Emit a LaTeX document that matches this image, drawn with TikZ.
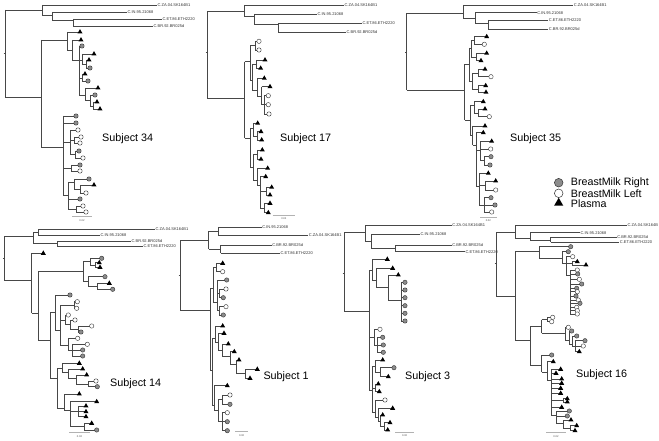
\documentclass[tikz,border=0pt]{standalone}
\usepackage{fontspec}
\setmainfont{Liberation Sans}
\usetikzlibrary{shapes.geometric}
\newcount\lc
\tikzset{
 br/.style={line width=0.65pt, draw=black!72},
 bmr/.style={circle, draw=black!80, line width=0.4pt, fill=black!45, minimum size=4.4pt, inner sep=0pt},
 bml/.style={circle, draw=black!80, line width=0.4pt, fill=white, minimum size=4.4pt, inner sep=0pt},
 pl/.style={regular polygon, regular polygon sides=3, fill=black, minimum size=5.8pt, inner sep=0pt},
 olab/.style={anchor=west, inner sep=0.4pt, font=\fontsize{4}{4}\selectfont, text=black!80},
 sbar/.style={line width=0.9pt, draw=gray!60},
 sblab/.style={font=\fontsize{2.6}{3}\selectfont, text=black!70, inner sep=0pt},
 subj/.style={anchor=west, inner sep=0pt, font=\fontsize{10.8}{12}\selectfont},
 leg/.style={anchor=west, inner sep=0pt, font=\fontsize{10.7}{12}\selectfont},
}
% leaf: parent x, leaf x, y, marker style
\newcommand\TLeaf[4]{\global\advance\lc by 1
 \draw[br] (#1,#3) -- (#2,#3); \node[#4] (m\the\lc) at (#2,#3) {};}
% internal node: parent x, node x, attach y, top y, bottom y
\newcommand\TNode[5]{\draw[br] (#1,#3) -- (#2,#3) (#2,#4) -- (#2,#5);}
% outgroup leaf with label
\newcommand\TOut[4]{\global\advance\lc by 1
 \draw[br] (#1,#3) -- (#2,#3); \node[olab] (t\the\lc) at (#2,#3) {#4};}
% root: x, top y, bottom y, tick y
\newcommand\TRoot[4]{\draw[br] (#1,#2) -- (#1,#3) (#1-1.5,#4) -- (#1,#4);}
\newcommand\TScale[3]{\global\advance\lc by 1
 \draw[sbar] (#1,#3) -- (#2,#3); \node[sblab] (s\the\lc) at ({(#1+#2)/2},#3+3.6) {0.02};}
\begin{document}
\begin{tikzpicture}[x=1pt,y=-1pt]
\useasboundingbox (0,0) rectangle (659,441);
\fill[white] (0,0) rectangle (659,441);

%%%%%%%%%%%%%%%% Subject 34
\TRoot{5}{10}{97}{53}
\draw[br] (5,10) -- (42,10) (42,5) -- (42,15);
\TOut{42}{157}{5}{C.ZA.04.SK164B1}
\TNode{42}{52}{15}{12}{20}
\TOut{52}{127}{12}{C.IN.95.21068}
\TNode{52}{73}{20}{19}{26}
\TOut{73}{162}{19}{C.ET.86.ETH2220}
\TOut{73}{153}{26}{C.BR.92.BR025d}
\draw[br] (5,97) -- (41,97) (41,40) -- (41,147);
\TNode{41}{67}{40}{32}{50}
\TLeaf{67}{80}{32}{pl}
\TNode{67}{72}{50}{40}{60}
\TLeaf{72}{81}{40}{pl}
\TNode{72}{79}{60}{46}{95}
\TLeaf{79}{82}{46}{bmr}
\TNode{79}{82}{60}{54}{64}
\TLeaf{82}{94}{54}{pl}
\TNode{82}{86}{64}{60}{68}
\TLeaf{86}{89}{60}{pl}
\TLeaf{86}{90}{68}{bmr}
\TNode{79}{82}{78}{74}{81}
\TLeaf{82}{85}{74}{pl}
\TLeaf{82}{88}{81}{bmr}
\TNode{79}{85}{95}{88}{100}
\TLeaf{85}{98}{88}{pl}
\TNode{85}{90}{100}{95}{106}
\TLeaf{90}{95}{95}{bmr}
\TNode{90}{93}{106}{102}{109}
\TLeaf{93}{97}{102}{pl}
\TLeaf{93}{100}{109}{pl}
\TNode{41}{63}{147}{116}{195}
\TLeaf{63}{76}{116}{bmr}
\TLeaf{63}{76}{123}{bmr}
\TNode{63}{70}{142}{130}{154.5}
\TLeaf{70}{78}{130}{bml}
\TNode{70}{74}{140}{137}{143}
\TLeaf{74}{81}{137}{bml}
\TLeaf{74}{80}{143}{bml}
\TNode{70}{75}{154.5}{151}{158}
\TLeaf{75}{79}{151}{bmr}
\TLeaf{75}{83}{158}{bml}
\TNode{63}{71}{168}{165}{171}
\TLeaf{71}{80}{165}{bmr}
\TLeaf{71}{80}{171}{bml}
\TNode{63}{68}{195}{182}{209}
\TNode{68}{74}{182}{179}{189}
\TLeaf{74}{89}{179}{bmr}
\TNode{74}{80}{189}{185}{193}
\TLeaf{80}{94}{185}{pl}
\TLeaf{80}{86}{193}{bml}
\TLeaf{68}{80}{199}{bmr}
\TNode{68}{76}{209}{206}{212}
\TLeaf{76}{83}{206}{bml}
\TLeaf{76}{86}{212}{bml}
\TScale{72}{92}{216.7}
\node[subj] (s34) at (102,139) {Subject 34};

%%%%%%%%%%%%%%%% Subject 17
\TRoot{207}{11.7}{98.3}{52}
\draw[br] (207,11.7) -- (244,11.7) (244,5) -- (244,16);
\TOut{244}{344}{5}{C.ZA.04.SK164B1}
\TNode{244}{254}{16}{14}{24}
\TOut{254}{317}{14}{C.IN.95.21068}
\TNode{254}{278}{24}{23}{32}
\TOut{278}{362}{23}{C.ET.86.ETH2220}
\TOut{278}{346}{32}{C.BR.92.BR025d}
\draw[br] (207,98.3) -- (244.7,98.3) (244.7,61.7) -- (244.7,138.3);
\TNode{244.7}{250}{61.7}{45.7}{80}
\TNode{250}{255}{45.7}{41.3}{50}
\TLeaf{255}{259}{41.3}{bml}
\TLeaf{255}{259}{50}{bml}
\TNode{250}{252}{80}{64}{90}
\TNode{252}{256}{64}{60}{68.3}
\TLeaf{256}{265}{60}{pl}
\TLeaf{256}{260.7}{68.3}{pl}
\TNode{252}{257}{90}{78.3}{96}
\TLeaf{257}{264.3}{78.3}{pl}
\TNode{257}{261.7}{96}{86.7}{104.7}
\TLeaf{261.7}{270}{86.7}{pl}
\TNode{261.7}{264}{104.7}{95.7}{114}
\TLeaf{264}{268.3}{95.7}{bml}
\TLeaf{264}{268.3}{104.7}{bml}
\TLeaf{264}{269}{114}{bml}
\TNode{244.7}{250}{138.3}{128}{167}
\TNode{250}{253}{128}{123.3}{136}
\TLeaf{253}{257.7}{123.3}{pl}
\TNode{253}{257}{136}{131.7}{140}
\TLeaf{257}{261}{131.7}{pl}
\TLeaf{257}{261.7}{140}{pl}
\TNode{250}{253}{167}{154.7}{180}
\TNode{253}{257}{154.7}{150}{159.3}
\TLeaf{257}{262.3}{150}{pl}
\TLeaf{257}{261}{159.3}{pl}
\TNode{253}{257}{180}{168.3}{185}
\TLeaf{257}{267.7}{168.3}{pl}
\TNode{257}{260}{185}{176.7}{208}
\TLeaf{260}{265.7}{176.7}{pl}
\TNode{260}{266}{191}{187.3}{195}
\TLeaf{266}{271.7}{187.3}{pl}
\TLeaf{266}{270}{195}{pl}
\TNode{260}{264}{208}{203.3}{212.7}
\TLeaf{264}{270}{203.3}{pl}
\TLeaf{264}{268.3}{212.7}{pl}
\TScale{272.7}{295}{215}
\node[subj] (s17) at (280,138.3) {Subject 17};

%%%%%%%%%%%%%%%% Subject 35
\TRoot{406.7}{13.3}{90}{52}
\draw[br] (406.7,13.3) -- (463.3,13.3) (463.3,5) -- (463.3,18);
\TOut{463.3}{573.3}{5}{C.ZA.04.SK164B1}
\TNode{463.3}{475}{18}{12.7}{23}
\TOut{475}{536.7}{12.7}{C.IN.95.21068}
\TNode{475}{488.3}{23}{20}{29}
\TOut{488.3}{548.3}{20}{C.ET.86.ETH2220}
\TOut{488.3}{548.3}{29}{C.BR.92.BR025d}
\draw[br] (406.7,90) -- (464.7,90) (464.7,64.5) -- (464.7,120);
\TNode{464.7}{469.3}{64.5}{48}{81}
\TNode{469.3}{471}{48}{40.5}{57}
\TNode{471}{474}{40.5}{36.7}{44.3}
\TLeaf{474}{486.7}{36.7}{pl}
\TLeaf{474}{484.3}{44.3}{bml}
\TNode{471}{476}{57}{53.3}{60.7}
\TLeaf{476}{486.7}{53.3}{pl}
\TLeaf{476}{481}{60.7}{pl}
\TNode{469.3}{472}{81}{73}{89}
\TNode{472}{478}{73}{69.3}{76.7}
\TLeaf{478}{485}{69.3}{pl}
\TLeaf{478}{491}{76.7}{bml}
\TNode{472}{478}{89}{85.7}{92.3}
\TLeaf{478}{485.7}{85.7}{pl}
\TLeaf{478}{486}{92.3}{pl}
\TNode{464.7}{470}{120}{105}{135}
\TNode{470}{474}{105}{101.7}{113}
\TLeaf{474}{483.3}{101.7}{pl}
\TNode{474}{478}{113}{109}{116.7}
\TLeaf{478}{485}{109}{pl}
\TLeaf{478}{489.3}{116.7}{bml}
\TNode{470}{472.7}{135}{126}{145}
\TLeaf{472.7}{485}{126}{pl}
\TNode{472.7}{476}{145}{132.7}{186}
\TLeaf{476}{483.3}{132.7}{pl}
\TNode{476}{480}{150}{141.3}{160.8}
\TLeaf{480}{491.7}{141.3}{pl}
\TLeaf{480}{490.7}{149}{bml}
\TNode{480}{484}{160.8}{156.7}{165}
\TLeaf{484}{491}{156.7}{bmr}
\TLeaf{484}{490}{165}{bmr}
\TNode{476}{479}{186}{173.3}{205}
\TLeaf{479}{488.3}{173.3}{pl}
\TNode{479}{485}{185.5}{181}{190}
\TLeaf{485}{495.7}{181}{pl}
\TLeaf{485}{495.7}{190}{bml}
\TNode{479}{484}{205}{197.7}{212}
\TLeaf{484}{491}{197.7}{bmr}
\TLeaf{484}{495}{205}{bmr}
\TLeaf{484}{491.7}{212}{bml}
\TScale{480}{496.7}{217}
\node[subj] (s35) at (510,138.3) {Subject 35};

% legend
\node[bmr, minimum size=8.6pt, line width=0.5pt] (lg1) at (558.7,182.7) {};
\node[leg] (lt1) at (570.7,182.7) {BreastMilk Right};
\node[bml, minimum size=8.6pt, line width=0.5pt] (lg2) at (558.7,193.3) {};
\node[leg] (lt2) at (570.7,193.3) {BreastMilk Left};
\node[pl, minimum size=10.5pt] (lg3) at (558.7,203) {};
\node[leg] (lt3) at (570.7,203.3) {Plasma};

%%%%%%%%%%%%%%%% Subject 14
\TRoot{4.3}{236}{280}{258}
\draw[br] (4.3,236) -- (33,236) (33,232) -- (33,243.5);
\TNode{33}{38}{232}{229}{235}
\TOut{38}{155}{229}{C.ZA.04.SK164B1}
\TOut{38}{100}{235}{C.IN.95.21068}
\TNode{33}{57}{243.5}{241}{246}
\TOut{57}{131}{241}{C.BR.92.BR025d}
\TOut{57}{143}{246}{C.ET.86.ETH2220}
\draw[br] (4.3,280) -- (31.7,280) (31.7,253.3) -- (31.7,313);
\TLeaf{31.7}{43.3}{253.3}{pl}
\TNode{31.7}{38.3}{313}{271.7}{340}
\TNode{38.3}{83.3}{271.7}{261.5}{281.5}
\TNode{83.3}{90}{261.5}{258.3}{265}
\TLeaf{90}{101.7}{258.3}{bmr}
\TNode{90}{95}{265}{262.7}{267.3}
\TLeaf{95}{99.3}{262.7}{pl}
\TLeaf{95}{100}{267.3}{pl}
\TNode{83.3}{88}{281.5}{276.7}{286.3}
\TLeaf{88}{105}{276.7}{bmr}
\TNode{88}{97}{286.3}{283.3}{289.3}
\TLeaf{97}{109.3}{283.3}{pl}
\TLeaf{97}{112.7}{289.3}{bmr}
\TNode{38.3}{50}{340}{312}{378}
\TNode{50}{55}{312}{295}{330}
\TLeaf{55}{70}{295}{bmr}
\TNode{55}{60}{330}{305}{345}
\TNode{60}{74}{305}{301.7}{308.3}
\TLeaf{74}{77.3}{301.7}{bml}
\TLeaf{74}{76.7}{308.3}{bml}
\TNode{60}{65}{320}{315}{324.5}
\TLeaf{65}{68.3}{315}{bml}
\TNode{65}{70}{324.5}{320}{329}
\TLeaf{70}{75}{320}{bml}
\TNode{70}{78}{329}{326}{332}
\TLeaf{78}{91.7}{326}{bml}
\TLeaf{78}{81}{332}{bmr}
\TNode{60}{68}{345}{338.3}{350}
\TLeaf{68}{77.7}{338.3}{bml}
\TNode{68}{72}{350}{344.3}{356}
\TLeaf{72}{87.3}{344.3}{bml}
\TLeaf{72}{82.7}{350}{bmr}
\TLeaf{72}{82.7}{356}{bmr}
\TNode{50}{57}{378}{368}{408}
\TNode{57}{62}{368}{363.3}{372}
\TLeaf{62}{79.3}{363.3}{pl}
\TNode{62}{68}{372}{369}{378}
\TLeaf{68}{82.7}{369}{pl}
\TNode{68}{76}{378}{375}{384}
\TLeaf{76}{86.7}{375}{pl}
\TNode{76}{88}{384}{381}{386.7}
\TLeaf{88}{96}{381}{bml}
\TLeaf{88}{97.3}{386.7}{bmr}
\TNode{57}{64}{408}{394}{410}
\TLeaf{64}{79.3}{394}{pl}
\TNode{64}{70}{410}{401.7}{426}
\TLeaf{70}{96.7}{401.7}{pl}
\TNode{70}{78}{411.7}{406}{416.7}
\TLeaf{78}{86}{406}{pl}
\TLeaf{78}{86}{411.7}{pl}
\TLeaf{78}{86}{416.7}{pl}
\TNode{70}{84}{426}{423.3}{430}
\TLeaf{84}{91.7}{423.3}{pl}
\TLeaf{84}{96.7}{430}{bmr}
\TScale{69}{90}{432.7}
\node[subj] (s14) at (110,384) {Subject 14};

%%%%%%%%%%%%%%%% Subject 1
\TRoot{180}{240}{310}{275}
\draw[br] (180,240) -- (208.7,240) (208.7,231) -- (208.7,249);
\TNode{208.7}{218.3}{231}{227.3}{235}
\TOut{218.3}{261.7}{227.3}{C.IN.95.21068}
\begin{scope}
\clip (200,225) rectangle (342,245);
\TOut{218.3}{308.3}{235}{C.ZA.04.SK164B1}
\end{scope}
\TNode{208.7}{220.7}{249}{245}{253}
\TOut{220.7}{271.7}{245}{C.BR.92.BR025d}
\TOut{220.7}{280}{253}{C.ET.86.ETH2220}
\draw[br] (180,310) -- (210,310) (210,288) -- (210,370);
\TNode{210}{213}{288}{267.5}{302}
\TNode{213}{216}{267.5}{263.3}{271.7}
\TLeaf{216}{222.7}{263.3}{pl}
\TLeaf{216}{222.7}{271.7}{bml}
\TNode{213}{217}{302}{280}{310.8}
\TLeaf{217}{226.7}{280}{bmr}
\TNode{217}{219}{293}{289}{297.7}
\TLeaf{219}{226}{289}{bml}
\TLeaf{219}{223.3}{297.7}{bmr}
\TNode{217}{219}{310.8}{306.7}{315}
\TLeaf{219}{226}{306.7}{bml}
\TLeaf{219}{223.3}{315}{bmr}
\TNode{210}{212}{370}{338}{405}
\TNode{212}{215}{338}{326}{342}
\TLeaf{215}{222.7}{326}{pl}
\TNode{215}{218}{342}{333.3}{350}
\TLeaf{218}{224}{333.3}{pl}
\TNode{218}{222}{350}{344}{356}
\TLeaf{222}{228.3}{344}{pl}
\TNode{222}{230}{356}{351.7}{364}
\TLeaf{230}{234.3}{351.7}{pl}
\TNode{230}{236}{364}{360}{373.8}
\TLeaf{236}{239}{360}{pl}
\TNode{236}{245}{373.8}{369.3}{378.3}
\TLeaf{245}{257.3}{369.3}{pl}
\TLeaf{245}{250}{378.3}{pl}
\TNode{212}{214}{405}{385.7}{410}
\TLeaf{214}{227.3}{385.7}{pl}
\TNode{214}{218}{410}{399.7}{421.7}
\TNode{218}{222}{399.7}{395}{404.3}
\TLeaf{222}{230}{395}{bml}
\TLeaf{222}{230}{404.3}{bmr}
\TNode{218}{222}{421.7}{412.7}{430.7}
\TLeaf{222}{227.3}{412.7}{bml}
\TLeaf{222}{227.3}{421.7}{bmr}
\TLeaf{222}{227.3}{430.7}{bmr}
\TScale{235}{248.3}{431.7}
\node[subj] (s1) at (263.3,376.7) {Subject 1};

%%%%%%%%%%%%%%%% Subject 3
\TRoot{344}{232}{311.7}{273}
\draw[br] (344,232) -- (365,232) (365,225) -- (365,241);
\TOut{365}{451.7}{225}{C.ZA.04.SK164B1}
\TNode{365}{371}{241}{234}{248}
\TOut{371}{420}{234}{C.IN.95.21068}
\TNode{371}{395}{248}{245}{251.7}
\TOut{395}{451.7}{245}{C.BR.92.BR025d}
\TOut{395}{465}{251.7}{C.ET.86.ETH2220}
\draw[br] (344,311.7) -- (369,311.7) (369,270) -- (369,390);
\TNode{369}{372}{270}{259.3}{280}
\TLeaf{372}{387.3}{259.3}{pl}
\TNode{372}{376}{280}{268.3}{287}
\TLeaf{376}{392.7}{268.3}{pl}
\TNode{376}{388}{287}{275}{300}
\TLeaf{388}{398.3}{275}{pl}
\TNode{388}{401}{300}{282.3}{321}
\TLeaf{401}{405}{282.3}{bmr}
\TLeaf{401}{405}{290}{bmr}
\TLeaf{401}{405}{297.7}{bmr}
\TLeaf{401}{405}{305.7}{bmr}
\TLeaf{401}{405}{313.3}{bmr}
\TLeaf{401}{405}{321}{bmr}
\TNode{369}{374}{337}{329.3}{345}
\TLeaf{374}{380}{329.3}{bml}
\TNode{374}{377}{345}{337.3}{352.3}
\TLeaf{377}{382.7}{337.3}{bmr}
\TLeaf{377}{383.3}{345}{bmr}
\TLeaf{377}{383.3}{352.3}{bmr}
\TNode{369}{372}{390}{366}{412}
\TNode{372}{375}{366}{360}{372}
\TLeaf{375}{382.7}{360}{pl}
\TNode{375}{380}{372}{367.7}{376.7}
\TLeaf{380}{394}{367.7}{bmr}
\TLeaf{380}{388.3}{376.7}{pl}
\TNode{372}{375}{388}{384}{391.7}
\TLeaf{375}{378.3}{384}{pl}
\TLeaf{375}{379.3}{391.7}{pl}
\TNode{372}{375}{412}{400}{417}
\TLeaf{375}{385}{400}{bml}
\TNode{375}{378}{417}{408.3}{421}
\TLeaf{378}{392.7}{408.3}{pl}
\TNode{378}{380}{421}{415}{426.3}
\TLeaf{380}{382.7}{415}{pl}
\TNode{380}{384}{426.3}{422.7}{430}
\TLeaf{384}{390}{422.7}{pl}
\TLeaf{384}{387.7}{430}{pl}
\TScale{395}{414.3}{432.3}
\node[subj] (s3) at (405,376.7) {Subject 3};

%%%%%%%%%%%%%%%% Subject 16
\TRoot{496}{232.7}{296.7}{263.3}
\draw[br] (496,232.7) -- (515,232.7) (515,225) -- (515,238);
\TOut{515}{627}{225}{C.ZA.04.SK164B}
\TNode{515}{530}{238}{232.7}{240}
\TOut{530}{580}{232.7}{C.IN.95.21068}
\TNode{530}{550.7}{240}{237.3}{242}
\TOut{550.7}{616.7}{237.3}{C.BR.92.BR025d}
\TOut{550.7}{619.3}{242}{C.ET.86.ETH2220}
\draw[br] (496,296.7) -- (515,296.7) (515,251.7) -- (515,340);
\TNode{515}{539.3}{251.7}{246.7}{258}
\TLeaf{539.3}{570.7}{246.7}{bmr}
\TNode{539.3}{562}{258}{251.7}{263}
\TLeaf{562}{568.3}{251.7}{bmr}
\TNode{562}{566}{263}{256.7}{275}
\TLeaf{566}{572.7}{256.7}{bml}
\TNode{566}{572}{263.3}{261.7}{265}
\TLeaf{572}{577.3}{261.7}{pl}
\TLeaf{572}{586}{265}{pl}
\TNode{566}{570}{275}{270}{314}
\TLeaf{570}{577.3}{270}{bml}
\TLeaf{570}{577.7}{274}{bmr}
\TLeaf{570}{579.3}{279.3}{bml}
\TLeaf{570}{581.7}{284}{bmr}
\TLeaf{570}{576.7}{288.3}{bmr}
\TLeaf{570}{577.3}{291.7}{bml}
\TLeaf{570}{576}{296}{bmr}
\TLeaf{570}{578.3}{300}{bml}
\TLeaf{570}{580}{303.3}{bmr}
\TLeaf{570}{576.7}{307.3}{bml}
\TLeaf{570}{577.3}{310.7}{bml}
\TLeaf{570}{577.3}{314}{bml}
\TNode{515}{530}{340}{326}{365}
\TNode{530}{541.7}{326}{319.5}{333}
\TNode{541.7}{547}{319.5}{317.3}{321.7}
\TLeaf{547}{552.7}{317.3}{bml}
\TLeaf{547}{551.7}{321.7}{bml}
\TNode{541.7}{565}{333}{327.3}{340}
\TLeaf{565}{568.3}{327.3}{bml}
\TNode{565}{569}{340}{331}{344}
\TLeaf{569}{571.7}{331}{bmr}
\TNode{569}{572}{344}{336}{346}
\TLeaf{572}{576.7}{336}{bmr}
\TNode{572}{575}{346}{340.7}{351.7}
\TLeaf{575}{585}{340.7}{bmr}
\TLeaf{575}{583.3}{346}{bml}
\TLeaf{575}{579.3}{351.7}{pl}
\TNode{530}{541.7}{365}{355}{372}
\TLeaf{541.7}{551.7}{355}{bmr}
\TNode{541.7}{547}{372}{361.7}{380}
\TLeaf{547}{553.3}{361.7}{pl}
\TNode{547}{551}{380}{369.3}{415}
\TLeaf{551}{560.7}{369.3}{pl}
\TLeaf{551}{556}{373.3}{pl}
\TLeaf{551}{561.7}{379}{pl}
\TLeaf{551}{561.7}{383.3}{pl}
\TLeaf{551}{560.7}{388.3}{pl}
\TLeaf{551}{560.7}{393.3}{pl}
\TNode{551}{563}{400.3}{398.7}{402}
\TLeaf{563}{567.3}{398.7}{pl}
\TLeaf{563}{567.3}{402}{pl}
\TLeaf{551}{561.7}{407.3}{pl}
\TNode{551}{556}{415}{411}{423}
\TLeaf{556}{569.3}{411}{bmr}
\TLeaf{556}{567.3}{416}{bmr}
\TNode{556}{563}{423}{420}{428}
\TLeaf{563}{571}{420}{pl}
\TNode{563}{570}{428}{425.7}{430.7}
\TLeaf{570}{576.7}{425.7}{pl}
\TLeaf{570}{575}{430.7}{pl}
\TScale{546}{566}{432.7}
\node[subj] (s16) at (576,375) {Subject 16};
\end{tikzpicture}
\end{document}
